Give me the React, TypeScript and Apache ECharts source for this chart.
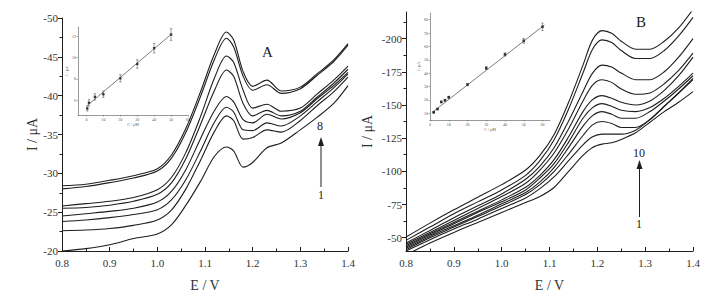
import React, { useEffect, useRef } from "react";
import * as echarts from "echarts";

// ---------- Panel A (DPV curves 1..8) ----------
const potentialA = [0.8, 0.85, 0.9, 0.95, 1.0, 1.03, 1.06, 1.09, 1.12, 1.145, 1.16, 1.18, 1.2, 1.23, 1.26, 1.3, 1.335, 1.37, 1.4];
const curveA1 = [-20.0, -20.3, -20.8, -21.6, -22.2, -23.4, -25.9, -28.9, -32.2, -33.4, -32.9, -30.8, -31.4, -33.3, -33.9, -35.6, -37.2, -39.0, -41.3];
const curveA2 = [-22.6, -22.7, -22.9, -23.3, -24.0, -25.3, -28.0, -31.6, -35.4, -37.4, -36.8, -34.4, -34.6, -35.6, -35.3, -36.8, -38.7, -40.5, -42.4];
const curveA3 = [-23.8, -24.0, -24.3, -24.7, -25.3, -26.6, -29.2, -32.8, -36.6, -38.5, -37.9, -35.6, -35.5, -36.5, -36.1, -37.4, -39.2, -41.0, -42.8];
const curveA4 = [-24.5, -24.8, -25.1, -25.5, -26.3, -27.7, -30.5, -34.4, -38.1, -39.9, -39.2, -36.9, -36.5, -37.6, -37.0, -37.8, -39.6, -41.3, -43.0];
const curveA5 = [-25.5, -25.6, -25.9, -26.4, -27.3, -28.8, -31.9, -36.2, -40.7, -43.3, -42.5, -39.0, -37.4, -38.1, -37.4, -38.0, -39.8, -41.6, -43.4];
const curveA6 = [-25.8, -26.1, -26.4, -26.9, -27.9, -29.5, -32.7, -37.2, -42.3, -45.1, -44.3, -40.7, -38.4, -38.9, -38.0, -38.4, -40.2, -42.0, -43.8];
const curveA7 = [-28.0, -28.3, -28.8, -29.4, -30.3, -32.0, -35.3, -39.8, -44.7, -47.4, -46.3, -42.5, -40.7, -41.4, -40.3, -40.9, -42.6, -44.4, -46.5];
const curveA8 = [-28.4, -28.6, -29.1, -29.7, -30.6, -32.4, -35.8, -40.4, -45.4, -48.2, -47.2, -43.1, -41.2, -42.0, -40.6, -41.1, -42.8, -44.6, -46.7];
const curvesA = [curveA1, curveA2, curveA3, curveA4, curveA5, curveA6, curveA7, curveA8];

// ---------- Panel B (DPV curves 1..10) ----------
const potentialB = [0.8, 0.85, 0.9, 0.95, 1.0, 1.05, 1.08, 1.11, 1.14, 1.17, 1.19, 1.21, 1.23, 1.25, 1.28, 1.31, 1.34, 1.37, 1.4];
const curveB1 = [-37, -46, -54, -61.5, -69, -76.5, -81, -88, -100, -112, -118, -120.5, -121.5, -124, -129, -137, -145, -152, -160];
const curveB2 = [-40, -48.5, -56.5, -64, -72, -80, -87, -96, -108, -120, -126, -128, -128, -128, -131, -139, -149, -159, -169];
const curveB3 = [-41, -50, -58, -66, -74, -82.5, -90, -100, -113, -127, -135, -137.5, -136, -133, -133, -139, -149, -159, -170];
const curveB4 = [-42, -51, -59, -67, -75.5, -84, -92, -103, -118, -134, -142, -145, -143, -140, -140, -145, -153, -162, -172];
const curveB5 = [-43, -52, -60.5, -69, -77, -86, -95, -106, -122, -140, -148, -151, -149, -146, -145, -148, -155, -164, -174];
const curveB6 = [-44, -53, -61.5, -70, -78.5, -88, -97, -109, -126, -145, -154, -157, -155, -152, -150, -153, -161, -172, -186];
const curveB7 = [-45, -54, -63, -72, -81, -91, -101, -114, -132, -153, -165, -169, -167, -162, -158, -159, -166, -176, -189];
const curveB8 = [-46, -55.5, -65, -74, -83, -94, -104, -118, -138, -160, -174, -180, -178.5, -174, -169, -169, -175, -186, -200];
const curveB9 = [-48, -58, -68, -77, -86, -97, -108, -124, -147, -174, -192, -199, -197, -191, -185, -185, -191, -202, -216];
const curveB10 = [-50.5, -61, -71, -80.5, -90, -101, -112, -128, -152, -180, -199, -206, -204, -198, -192, -192, -198, -208, -222];
const curvesB = [curveB1, curveB2, curveB3, curveB4, curveB5, curveB6, curveB7, curveB8, curveB9, curveB10];

// ---------- Inset A (calibration) ----------
const concA = [0.5, 1.5, 5, 10, 20, 30, 40, 50];
const peakA = [5.22, 5.75, 6.31, 6.56, 8.06, 9.41, 10.9, 12.19];
const errA = [0.25, 0.3, 0.3, 0.3, 0.35, 0.4, 0.45, 0.55];
const fitA = [[0.5, 5.5], [50, 12.2]];

// ---------- Inset B (calibration) ----------
const concB = [2, 4, 6, 8, 10, 20, 30, 40, 50, 60];
const peakB = [10.75, 13.2, 18.5, 19.75, 22, 31.5, 43.8, 54, 64.2, 74.7];
const errB = [0.5, 0.5, 0.6, 0.6, 0.8, 0.8, 1, 1.2, 1.8, 2.8];
const fitB = [[1, 10.5], [61, 76]];

// tick values
const yTicksBMajor = [-200, -175, -150, -125, -100, -75, -50];
const yTicksBMinor = [-212.5, -187.5, -162.5, -137.5, -112.5, -87.5, -62.5];
const xTicksInsetA = [0, 10, 20, 30, 40, 50, 60];
const yTicksInsetA = [6, 8, 10, 12];
const xTicksInsetB = [0, 10, 20, 30, 40, 50, 60];
const yTicksInsetB = [10, 20, 30, 40, 50, 60, 70, 80];

const FONT = "'Liberation Serif', 'DejaVu Serif', serif";
const INK = "#1e1e1e";
const TXT = "#333";

function mainX(gridIndex: number) {
  return {
    type: "value",
    gridIndex,
    min: 0.8,
    max: 1.4,
    interval: 0.1,
    name: "E / V",
    nameLocation: "middle",
    nameGap: 27,
    nameTextStyle: { fontFamily: FONT, fontSize: 14, color: TXT },
    axisLine: { show: true, onZero: false, lineStyle: { color: INK, width: 1 } },
    axisTick: { show: true, inside: true, length: 4, lineStyle: { color: INK } },
    minorTick: { show: true, splitNumber: 2, length: 2.5, lineStyle: { color: INK } },
    axisLabel: { fontFamily: FONT, fontSize: 11, color: TXT, margin: 6, formatter: (v: number) => v.toFixed(1) },
    splitLine: { show: false },
    minorSplitLine: { show: false },
  };
}

function insetAxisCommon() {
  return {
    axisLine: { show: true, onZero: false, lineStyle: { color: "#555", width: 0.6 } },
    splitLine: { show: false },
    nameLocation: "middle",
    nameTextStyle: { fontFamily: FONT, fontSize: 4, color: "#555" },
  };
}

function errorBarRender(params: any, api: any) {
  const x = api.value(0);
  const y = api.value(1);
  const e = api.value(2);
  const p1 = api.coord([x, y + e]);
  const p2 = api.coord([x, y - e]);
  const w = 1.2;
  const st = { stroke: "#444", lineWidth: 0.5 };
  return {
    type: "group",
    children: [
      { type: "line", shape: { x1: p1[0], y1: p1[1], x2: p2[0], y2: p2[1] }, style: st },
      { type: "line", shape: { x1: p1[0] - w, y1: p1[1], x2: p1[0] + w, y2: p1[1] }, style: st },
      { type: "line", shape: { x1: p2[0] - w, y1: p2[1], x2: p2[0] + w, y2: p2[1] }, style: st },
    ],
  };
}

export default function App() {
  const ref = useRef<HTMLDivElement>(null);

  useEffect(() => {
    if (!ref.current) return;
    const chart = echarts.init(ref.current, undefined, { renderer: "svg" });

    const seriesA = curvesA.map((c, i) => ({
      type: "line",
      name: `A${i + 1}`,
      xAxisIndex: 0,
      yAxisIndex: 0,
      data: potentialA.map((e, j) => [e, c[j]]),
      showSymbol: false,
      smooth: 0.3,
      lineStyle: { color: INK, width: 1.1 },
      silent: true,
    }));
    const seriesB = curvesB.map((c, i) => ({
      type: "line",
      name: `B${i + 1}`,
      xAxisIndex: 1,
      yAxisIndex: 1,
      data: potentialB.map((e, j) => [e, c[j]]),
      showSymbol: false,
      smooth: 0.3,
      lineStyle: { color: INK, width: 1.1 },
      silent: true,
    }));

    const option: any = {
      animation: false,
      backgroundColor: "#ffffff",
      grid: [
        { left: 62, top: 18, width: 286, height: 243 },
        { left: 406, top: 12, width: 287, height: 246 },
        { left: 78, top: 27, width: 110, height: 88 },
        { left: 430, top: 13, width: 120, height: 107 },
      ],
      xAxis: [
        mainX(0),
        mainX(1),
        {
          ...insetAxisCommon(),
          type: "value",
          gridIndex: 2,
          min: -5,
          max: 60,
          name: "C / μM",
          nameGap: 7,
          axisTick: { show: true, length: 1.5, customValues: xTicksInsetA, lineStyle: { color: "#555", width: 0.5 } },
          axisLabel: { fontFamily: FONT, fontSize: 4, color: "#555", margin: 2, customValues: xTicksInsetA },
        },
        {
          ...insetAxisCommon(),
          type: "value",
          gridIndex: 3,
          min: 0,
          max: 64,
          name: "C / μM",
          nameGap: 7,
          axisTick: { show: true, length: 1.5, customValues: xTicksInsetB, lineStyle: { color: "#555", width: 0.5 } },
          axisLabel: { fontFamily: FONT, fontSize: 4, color: "#555", margin: 2, customValues: xTicksInsetB },
        },
      ],
      yAxis: [
        {
          type: "value",
          gridIndex: 0,
          min: -50,
          max: -20,
          interval: 5,
          inverse: true,
          name: "I / μA",
          nameLocation: "middle",
          nameGap: 22,
          nameTextStyle: { fontFamily: FONT, fontSize: 14, color: TXT },
          axisLine: { show: true, onZero: false, lineStyle: { color: INK, width: 1 } },
          axisTick: { show: true, length: 4, lineStyle: { color: INK } },
          minorTick: { show: true, splitNumber: 2, length: 2.5, lineStyle: { color: INK } },
          axisLabel: { fontFamily: FONT, fontSize: 11, color: TXT, margin: 4 },
          splitLine: { show: false },
        },
        {
          type: "value",
          gridIndex: 1,
          position: "left",
          min: -220,
          max: -40,
          inverse: true,
          name: "I / μA",
          nameLocation: "middle",
          nameGap: 32,
          nameTextStyle: { fontFamily: FONT, fontSize: 14, color: TXT },
          axisLine: { show: true, onZero: false, lineStyle: { color: INK, width: 1 } },
          axisTick: { show: true, length: 4, customValues: yTicksBMajor, lineStyle: { color: INK } },
          axisLabel: { fontFamily: FONT, fontSize: 11, color: TXT, margin: 4, customValues: yTicksBMajor },
          splitLine: { show: false },
        },
        {
          type: "value",
          gridIndex: 1,
          position: "left",
          offset: 0,
          min: -220,
          max: -40,
          inverse: true,
          axisLine: { show: false, onZero: false },
          axisTick: { show: true, length: 2.5, customValues: yTicksBMinor, lineStyle: { color: INK } },
          axisLabel: { show: false },
          splitLine: { show: false },
        },
        {
          ...insetAxisCommon(),
          type: "value",
          gridIndex: 2,
          min: 4.6,
          max: 12.9,
          name: "I / μA",
          nameGap: 8,
          axisTick: { show: true, length: 1.5, customValues: yTicksInsetA, lineStyle: { color: "#555", width: 0.5 } },
          axisLabel: { fontFamily: FONT, fontSize: 4, color: "#555", margin: 2, customValues: yTicksInsetA },
        },
        {
          ...insetAxisCommon(),
          type: "value",
          gridIndex: 3,
          min: 5,
          max: 85,
          name: "I / μA",
          nameGap: 9,
          axisTick: { show: true, length: 1.5, customValues: yTicksInsetB, lineStyle: { color: "#555", width: 0.5 } },
          axisLabel: { fontFamily: FONT, fontSize: 4, color: "#555", margin: 2, customValues: yTicksInsetB },
        },
      ],
      series: [
        ...seriesA,
        ...seriesB,
        {
          type: "line",
          xAxisIndex: 2,
          yAxisIndex: 3,
          data: fitA,
          showSymbol: false,
          lineStyle: { color: "#444", width: 0.7 },
          silent: true,
        },
        {
          type: "custom",
          xAxisIndex: 2,
          yAxisIndex: 3,
          renderItem: errorBarRender,
          data: concA.map((c, i) => [c, peakA[i], errA[i]]),
          encode: { x: 0, y: 1 },
          silent: true,
        },
        {
          type: "scatter",
          xAxisIndex: 2,
          yAxisIndex: 3,
          data: concA.map((c, i) => [c, peakA[i]]),
          symbol: "rect",
          symbolSize: 2.4,
          itemStyle: { color: "#111" },
          silent: true,
        },
        {
          type: "line",
          xAxisIndex: 3,
          yAxisIndex: 4,
          data: fitB,
          showSymbol: false,
          lineStyle: { color: "#444", width: 0.7 },
          silent: true,
        },
        {
          type: "custom",
          xAxisIndex: 3,
          yAxisIndex: 4,
          renderItem: errorBarRender,
          data: concB.map((c, i) => [c, peakB[i], errB[i]]),
          encode: { x: 0, y: 1 },
          silent: true,
        },
        {
          type: "scatter",
          xAxisIndex: 3,
          yAxisIndex: 4,
          data: concB.map((c, i) => [c, peakB[i]]),
          symbol: "rect",
          symbolSize: 2.6,
          itemStyle: { color: "#111" },
          silent: true,
        },
      ],
      graphic: [
        { type: "text", left: 262, top: 44, style: { text: "A", font: `15px ${FONT}`, fill: "#222" } },
        { type: "text", left: 317, top: 120, style: { text: "8", font: `12px ${FONT}`, fill: "#222" } },
        { type: "text", left: 318, top: 189, style: { text: "1", font: `12px ${FONT}`, fill: "#222" } },
        { type: "line", shape: { x1: 321, y1: 187, x2: 321, y2: 144 }, style: { stroke: INK, lineWidth: 1 } },
        { type: "polygon", shape: { points: [[318, 146], [324, 146], [321, 137]] }, style: { fill: INK } },
        { type: "text", left: 636, top: 14, style: { text: "B", font: `15px ${FONT}`, fill: "#222" } },
        { type: "text", left: 633, top: 147, style: { text: "10", font: `12px ${FONT}`, fill: "#222" } },
        { type: "text", left: 636, top: 218, style: { text: "1", font: `12px ${FONT}`, fill: "#222" } },
        { type: "line", shape: { x1: 639.5, y1: 217, x2: 639.5, y2: 167 }, style: { stroke: INK, lineWidth: 1 } },
        { type: "polygon", shape: { points: [[636.5, 169], [642.5, 169], [639.5, 160]] }, style: { fill: INK } },
      ],
    };

    chart.setOption(option);
    return () => chart.dispose();
  }, []);

  return (
    <div
      ref={ref}
      style={{ position: "fixed", left: 0, top: 0, width: 720, height: 297, background: "#fff" }}
    />
  );
}
